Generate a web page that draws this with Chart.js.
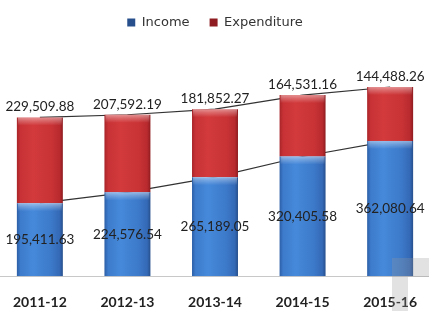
<!DOCTYPE html>
<html>
<head>
<meta charset="utf-8">
<script src="https://cdn.jsdelivr.net/npm/chart.js@4/dist/chart.umd.min.js"></script>
<style>
html,body{margin:0;padding:0;background:#fff;overflow:hidden;width:429px;height:311px;}
#wrap{position:absolute;left:-5px;top:0;width:440px;height:329px;}
.wm{position:absolute;background:rgba(150,150,150,0.28);}
</style>
</head>
<body>
<div id="wrap"><canvas id="c"></canvas></div>
<div class="wm" style="left:392px;top:258px;width:37px;height:19px;"></div>
<div class="wm" style="left:392px;top:277px;width:16px;height:34px;"></div>
<script>
const categories = ['2011-12','2012-13','2013-14','2014-15','2015-16'];
const income = [195411.63, 224576.54, 265189.05, 320405.58, 362080.64];
const expenditure = [229509.88, 207592.19, 181852.27, 164531.16, 144488.26];

const fmt = v => v.toLocaleString('en-US',{minimumFractionDigits:2,maximumFractionDigits:2});

function barGrad(ctx, stops, solid){
  const chart = ctx.chart;
  if (ctx.dataIndex === undefined || !chart.scales || !chart.scales.x) return solid;
  const cx = chart.scales.x.getPixelForValue(ctx.dataIndex);
  if (!isFinite(cx)) return solid;
  const w = 23;
  const g = chart.ctx.createLinearGradient(cx - w, 0, cx + w, 0);
  stops.forEach(s => g.addColorStop(s[0], s[1]));
  return g;
}
const blueStops = [[0,'#2c5fa6'],[0.08,'#3d7bcc'],[0.35,'#4689da'],[0.75,'#3c79c9'],[0.93,'#3469b6'],[1,'#274f8c']];
const redStops = [[0,'#a82428'],[0.08,'#c83236'],[0.35,'#d23a3c'],[0.75,'#c93336'],[0.93,'#b82a2e'],[1,'#8e1c20']];

const overlay = {
  id:'overlay',
  afterDatasetsDraw(chart){
    const ctx = chart.ctx;
    const mi = chart.getDatasetMeta(0), me = chart.getDatasetMeta(1);
    ctx.save();
    [mi, me].forEach(meta => {
      meta.data.forEach(b => {
        const w = b.width, x0 = b.x - w/2;
        if (!isFinite(b.y) || !isFinite(x0)) return;
        const g = ctx.createLinearGradient(0, b.y, 0, b.y + 8);
        g.addColorStop(0, 'rgba(255,255,255,0.45)');
        g.addColorStop(0.4, 'rgba(255,255,255,0.25)');
        g.addColorStop(1, 'rgba(255,255,255,0)');
        ctx.fillStyle = g;
        ctx.fillRect(x0 + 1, b.y, w - 2, 8);
      });
    });
    ctx.font = '13.5px Lato';
    ctx.textAlign = 'center';
    ctx.fillStyle = '#222';
    ctx.textBaseline = 'middle';
    mi.data.forEach((b,i) => { ctx.fillText(fmt(income[i]), b.x, (b.y + b.base)/2); });
    ctx.textBaseline = 'alphabetic';
    me.data.forEach((b,i) => { ctx.fillText(fmt(expenditure[i]), b.x, b.y - 6); });
    ctx.restore();
  }
};

new Chart(document.getElementById('c'), {
  type:'bar',
  data:{
    labels: categories,
    datasets:[
      {label:'Income', data: income, stack:'B', order:0,
       backgroundColor: c => barGrad(c, blueStops, '#3d7ccc'), borderWidth:0,
       categoryPercentage:1, barPercentage:0.525},
      {label:'Expenditure', data: expenditure, stack:'B', order:0,
       backgroundColor: c => barGrad(c, redStops, '#c83236'), borderWidth:0,
       categoryPercentage:1, barPercentage:0.525},
      {type:'line', label:'incomeLine', data: income, stack:'L', order:5,
       borderColor:'#333', borderWidth:1.2, pointRadius:0, fill:false, tension:0},
      {type:'line', label:'totalLine', data: expenditure, stack:'L', order:5,
       borderColor:'#333', borderWidth:1.2, pointRadius:0, fill:false, tension:0}
    ]
  },
  options:{
    responsive:true, maintainAspectRatio:false, animation:false,
    layout:{padding:{top:-4,left:0,right:0,bottom:0}},
    plugins:{
      tooltip:{enabled:false},
      legend:{
        display:true, position:'top',
        labels:{
          filter: it => it.text === 'Income' || it.text === 'Expenditure',
          boxWidth:8, boxHeight:8, padding:20,
          color:'#333', font:{family:'DejaVu Sans', size:13}
        }
      }
    },
    scales:{
      x:{
        stacked:true,
        grid:{display:false, drawTicks:false},
        border:{display:true, color:'#c8c8c8', width:1},
        ticks:{color:'#222', padding:18, font:{family:'Lato', size:14, weight:'bold'}}
      },
      y:{
        stacked:true, display:false, min:0, max:635000
      }
    }
  },
  plugins:[overlay]
});
</script>
</body>
</html>
